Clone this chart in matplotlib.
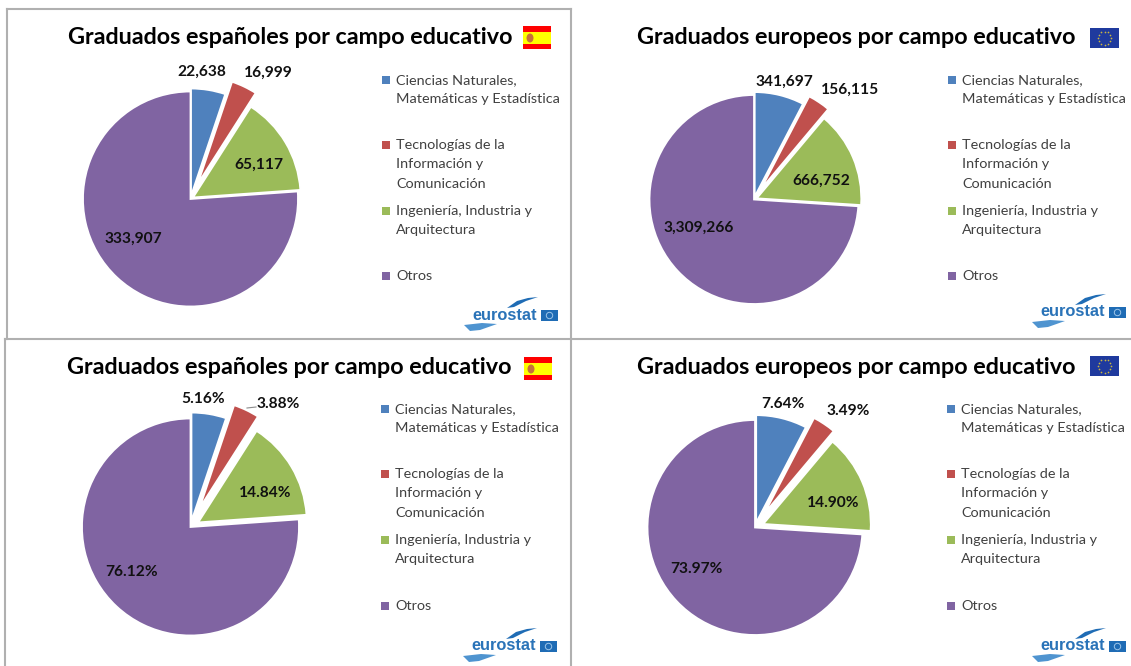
import matplotlib
matplotlib.use('Agg')
import matplotlib.pyplot as plt
from matplotlib.patches import Rectangle, Polygon, Ellipse
import numpy as np

plt.rcParams['font.family'] = ['Lato', 'DejaVu Sans']

W, H = 1131, 666

categories = ['Ciencias Naturales,\nMatemáticas y Estadística',
              'Tecnologías de la\nInformación y\nComunicación',
              'Ingeniería, Industria y\nArquitectura',
              'Otros']
spain_values = [22638, 16999, 65117, 333907]
europe_values = [341697, 156115, 666752, 3309266]
title_spain = 'Graduados españoles por campo educativo'
title_europe = 'Graduados europeos por campo educativo'
colors = ['#4f81bd', '#c0504d', '#9bbb59', '#8064a2']

fig = plt.figure(figsize=(W / 100, H / 100), dpi=100)
ax = fig.add_axes([0, 0, 1, 1])


def Y(py):
    # picture rows run downwards, the axes run upwards
    return H - py


def draw_flag_es(x, y):
    ax.add_patch(Rectangle((x, Y(y + 23)), 28, 23, fc='#ff0000', ec='none', zorder=3))
    ax.add_patch(Rectangle((x, Y(y + 18)), 28, 12, fc='#ffff00', ec='none', zorder=4))
    ax.add_patch(Ellipse((x + 7, Y(y + 12)), 7, 9, fc='#c8703a', ec='none', zorder=5))


def draw_flag_eu(x, y):
    ax.add_patch(Rectangle((x, Y(y + 20)), 29, 20, fc='#1f3a9e', ec='none', zorder=3))
    t = np.arange(12) * np.pi / 6
    ax.scatter(x + 14.5 + 6.5 * np.cos(t), Y(y + 10) + 6.5 * np.sin(t), s=1.5,
               color='#c9b640', zorder=4, linewidths=0)


def draw_logo(x, y):
    # x, y is the left end of the word
    ax.text(x, Y(y), 'eurostat', fontsize=11.8, fontweight='bold', color='#2a73b8',
            ha='left', va='center', family=['Liberation Sans'], zorder=3)
    ax.add_patch(Rectangle((x + 69, Y(y + 6)), 17, 11, fc='#1f6cb5', ec='none', zorder=3))
    ax.add_patch(plt.Circle((x + 77.5, Y(y + 0.5)), 3.2, fc='none', ec='#9cc4e8', lw=0.7, zorder=4))
    ax.add_patch(Polygon([(x + 35, Y(y - 7)), (x + 45, Y(y - 14)), (x + 56, Y(y - 17)),
                          (x + 66, Y(y - 18)), (x + 54, Y(y - 14)), (x + 42, Y(y - 8))],
                         fc='#1f6cb5', ec='none', zorder=3))
    ax.add_patch(Polygon([(x - 8, Y(y + 10)), (x + 10, Y(y + 8)), (x + 25, Y(y + 9)),
                          (x + 8, Y(y + 15)), (x - 2, Y(y + 16))],
                         fc='#4f94d0', ec='none', zorder=3))


def draw_panel(values, title, title_x, title_y, centre, radius, explode_px, text_at,
               legend_x, legend_y, as_percent):
    total = sum(values)
    ax.pie(values, colors=colors, startangle=90, counterclock=False, explode=explode_px,
           center=(centre[0], Y(centre[1])), radius=radius,
           wedgeprops={'edgecolor': 'white', 'linewidth': 1.3}, frame=True)
    ax.text(title_x, Y(title_y), title, fontsize=16.8, fontweight='bold', color='black',
            ha='left', va='center')
    for v, (px, py) in zip(values, text_at):
        s = '{:.2f}%'.format(100 * v / total) if as_percent else '{:,}'.format(v)
        ax.text(px, Y(py), s, fontsize=11.2, fontweight='bold', color='#111111',
                ha='center', va='center', zorder=6)
    for name, col, ly in zip(categories, colors, legend_y):
        ax.add_patch(Rectangle((legend_x, Y(ly + 4)), 8, 8, fc=col, ec='none'))
        ax.text(legend_x + 14, Y(ly - 6), name, fontsize=10.4, color='#404040', ha='left',
                va='top', linespacing=1.74)


legend_rows = [80, 145, 211, 276]
legend_rows_low = [409, 474, 540, 606]

draw_panel(spain_values, title_spain, 68, 38, (190.5, 199), 107.5,
           [3, 17, 3, 0],
           [(202, 72), (268, 73), (259, 165), (133, 239)],
           382, legend_rows, False)
draw_panel(europe_values, title_europe, 637, 38, (754, 199.5), 104.5,
           [3, 12.5, 3, 0],
           [(784, 82), (850, 90), (821, 181), (699, 228)],
           948, legend_rows, False)
draw_panel(spain_values, title_spain, 67, 367, (190.5, 527), 108.5,
           [6, 21, 9, 0],
           [(203, 399), (278, 404), (265, 493), (132, 572)],
           381, legend_rows_low, True)
draw_panel(europe_values, title_europe, 637, 367, (755, 527.5), 107.5,
           [5, 17, 9, 0],
           [(783, 404), (848, 411), (833, 503), (696, 569)],
           947, legend_rows_low, True)

# leader line of the 3.88% label
ax.plot([247, 256], [Y(408), Y(407)], color='#8c8c8c', lw=0.8, zorder=5)

draw_flag_es(523, 26)
draw_flag_es(524, 357)
draw_flag_eu(1090, 28)
draw_flag_eu(1090, 356)
draw_logo(472, 315)
draw_logo(1040, 312)
draw_logo(471, 646)
draw_logo(1040, 646)

# panel borders
grey = '#b0b0b0'
ax.plot([7, 571], [Y(9), Y(9)], color=grey, lw=1.5)
ax.plot([7, 7], [Y(9), Y(339)], color=grey, lw=1.5)
ax.plot([5, 5], [Y(339), Y(666)], color=grey, lw=1.5)
ax.plot([571, 571], [Y(9), Y(666)], color=grey, lw=1.5)
ax.plot([5, W], [Y(339), Y(339)], color=grey, lw=1.5)

ax.set_xlim(0, W)
ax.set_ylim(0, H)
ax.set_aspect('auto')
ax.axis('off')

fig.savefig('out.png', dpi=100)
